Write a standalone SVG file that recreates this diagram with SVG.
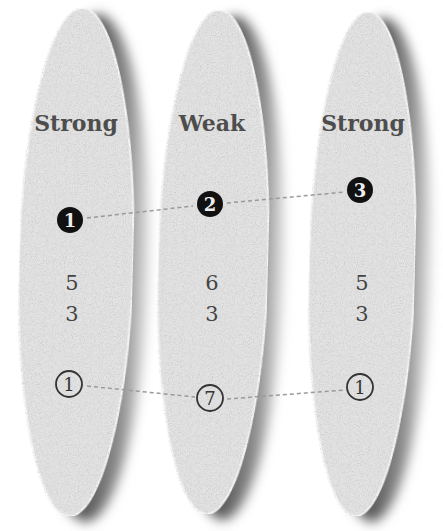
<svg xmlns="http://www.w3.org/2000/svg" width="443" height="531" viewBox="0 0 443 531">
<defs>
<filter id="blur" x="-40%" y="-10%" width="180%" height="120%"><feGaussianBlur stdDeviation="6"/></filter>
<filter id="grain" x="0" y="0" width="100%" height="100%">
<feTurbulence type="fractalNoise" baseFrequency="0.9" numOctaves="2" seed="3" result="n"/>
<feColorMatrix in="n" type="matrix" values="0 0 0 0 0.55  0 0 0 0 0.55  0 0 0 0 0.55  0 0 0 -2.2 1.25" result="g"/>
<feComposite in="g" in2="SourceGraphic" operator="in" result="gi"/>
<feMerge><feMergeNode in="SourceGraphic"/><feMergeNode in="gi"/></feMerge>
</filter>
<linearGradient id="sh" x1="0" y1="0" x2="1" y2="0">
<stop offset="0.5" stop-color="#5c5c5c"/>
<stop offset="0.8" stop-color="#929292"/>
<stop offset="1" stop-color="#e4e4e4"/>
</linearGradient>
</defs>
<style>
.face{fill:#e4e4e4;stroke:#fafafa;stroke-width:2}
.shadow{fill:url(#sh);filter:url(#blur)}
.lbl{font-family:"DejaVu Serif","Liberation Serif",serif;font-weight:bold;font-size:22px;fill:#4d4d4d;text-anchor:middle}
.num{font-family:"DejaVu Serif","Liberation Serif",serif;font-size:21px;fill:#444;text-anchor:middle}
.dot{fill:#111}
.ring{fill:none;stroke:#333;stroke-width:1.8}
.in{font-family:"DejaVu Serif","Liberation Serif",serif;font-weight:bold;font-size:18px;text-anchor:middle}
.w{fill:#eee}
.k{fill:#333;font-weight:normal}
.conn{fill:none;stroke:#9a9a9a;stroke-width:1.5;stroke-dasharray:4 3}
</style>
<rect width="443" height="531" fill="#fff"/>
<g id="disc-left">
<ellipse class="shadow" cx="92" cy="268" rx="57" ry="254" transform="rotate(1.5 92 268)"/>
<ellipse class="face" cx="76" cy="262" rx="57" ry="254" transform="rotate(1.5 76 262)" filter="url(#grain)"/>
<text class="lbl" x="76" y="131">Strong</text>
<text class="num" x="72" y="290">5</text>
<text class="num" x="72" y="321">3</text>
</g>
<g id="disc-middle">
<ellipse class="shadow" cx="229" cy="268" rx="55" ry="252" transform="rotate(1.5 229 268)"/>
<ellipse class="face" cx="213" cy="262" rx="55" ry="252" transform="rotate(1.5 213 262)" filter="url(#grain)"/>
<text class="lbl" x="212" y="131">Weak</text>
<text class="num" x="212" y="290">6</text>
<text class="num" x="212" y="321">3</text>
</g>
<g id="disc-right">
<ellipse class="shadow" cx="378" cy="270" rx="53" ry="252" transform="rotate(1.5 378 270)"/>
<ellipse class="face" cx="362" cy="264" rx="53" ry="252" transform="rotate(1.5 362 264)" filter="url(#grain)"/>
<text class="lbl" x="363" y="131">Strong</text>
<text class="num" x="362" y="290">5</text>
<text class="num" x="362" y="321">3</text>
</g>
<g id="connectors">
<path class="conn" d="M87 218 L193 206"/>
<path class="conn" d="M227 203 L345 192"/>
<path class="conn" d="M87 386 L195 397"/>
<path class="conn" d="M227 399 L345 390"/>
</g>
<g id="n1">
<circle class="dot" cx="70" cy="220" r="13"/>
<text class="in w" x="70" y="226.5">1</text>
</g>
<g id="n2">
<circle class="dot" cx="210" cy="204" r="13"/>
<text class="in w" x="210" y="210.5">2</text>
</g>
<g id="n3">
<circle class="dot" cx="360" cy="190" r="13"/>
<text class="in w" x="360" y="196.5">3</text>
</g>
<g id="o1">
<circle class="ring" cx="69" cy="384" r="13"/>
<text class="in k" x="69" y="390.5">1</text>
</g>
<g id="o7">
<circle class="ring" cx="210" cy="398" r="13"/>
<text class="in k" x="210" y="404.5">7</text>
</g>
<g id="o1b">
<circle class="ring" cx="360" cy="387" r="13"/>
<text class="in k" x="360" y="393.5">1</text>
</g>
</svg>
